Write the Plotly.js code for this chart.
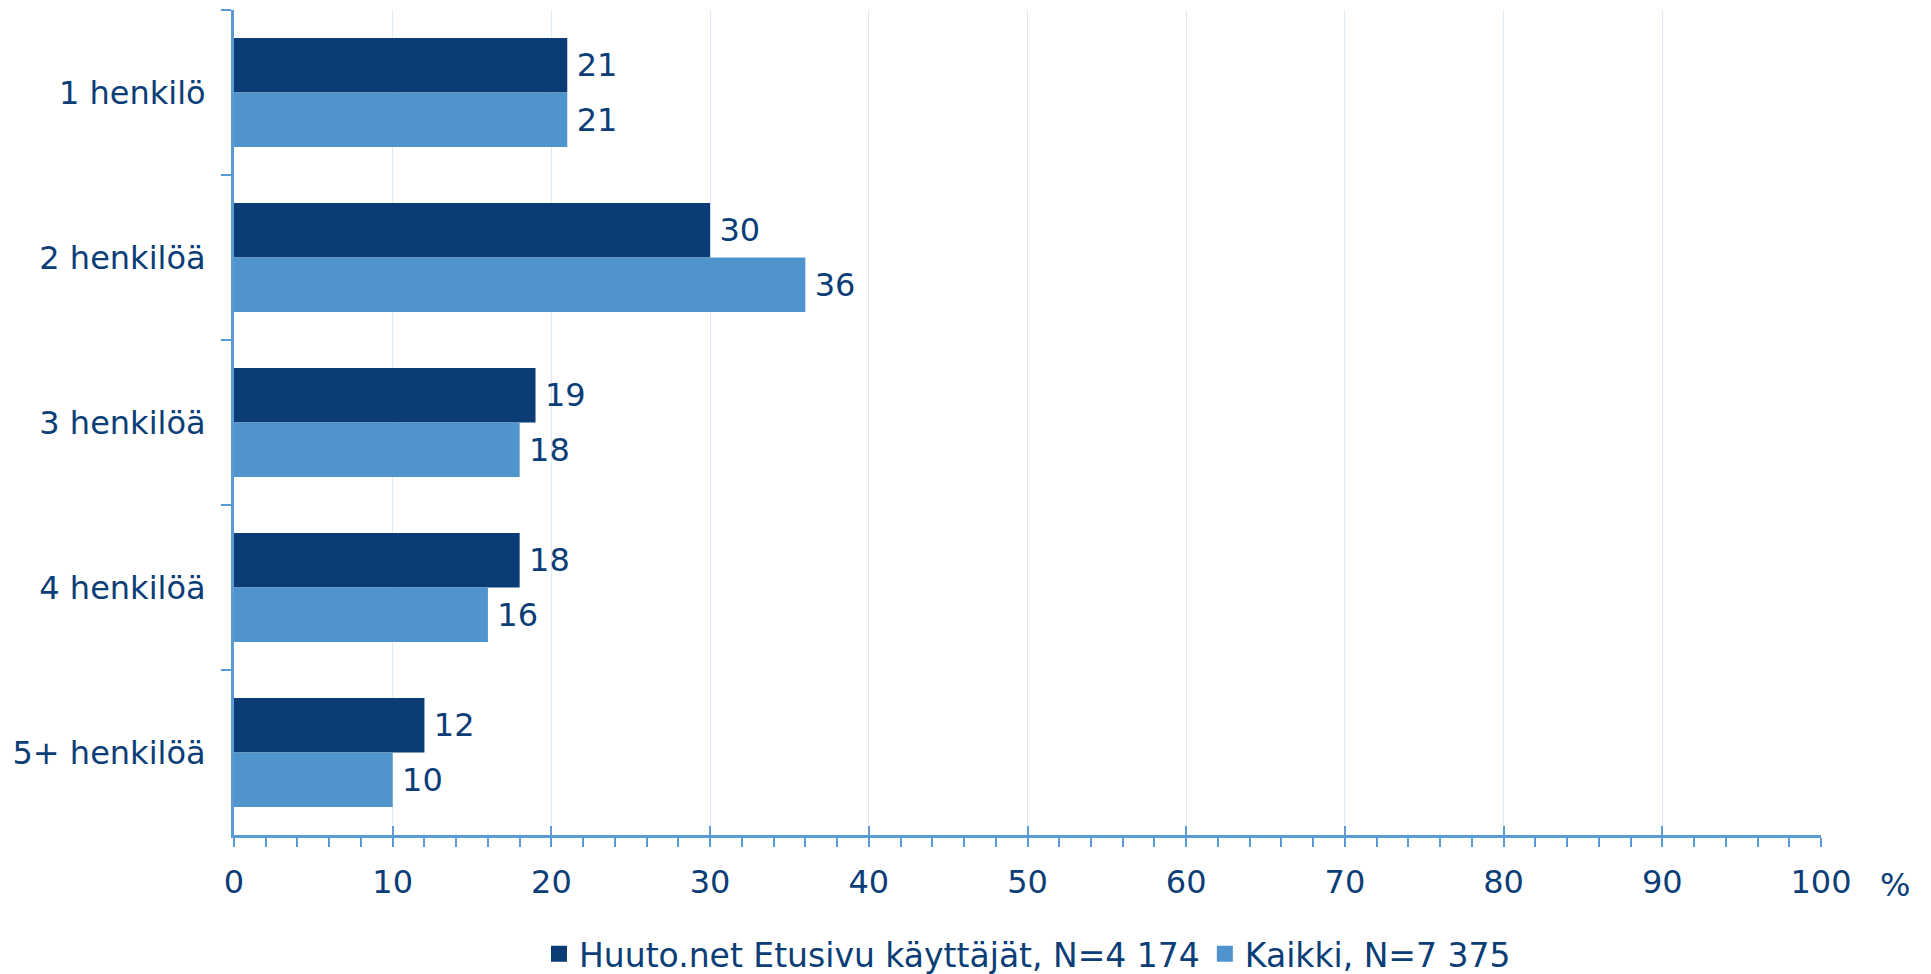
<!DOCTYPE html>
<html>
<head>
<meta charset="utf-8">
<script src="https://cdn.plot.ly/plotly-3.0.1.min.js"></script>
<style>
html, body { margin: 0; padding: 0; background: #ffffff; }
#chart { width: 1931px; height: 974px; }
</style>
</head>
<body>
<div id="chart"></div>
<script>
const categories = ["1 henkilö", "2 henkilöä", "3 henkilöä", "4 henkilöä", "5+ henkilöä"];
const seriesNames = ["Huuto.net Etusivu käyttäjät, N=4 174", "Kaikki, N=7 375"];
const huutoValues = [21, 30, 19, 18, 12];
const kaikkiValues = [21, 36, 18, 16, 10];
const xTickValues = [0, 10, 20, 30, 40, 50, 60, 70, 80, 90, 100];

const darkBlue = "#0b3c75";
const lightBlue = "#4f94cd";
const axisBlue = "#5b9bd5";
const textBlue = "#0b3d77";
const fontFam = "DejaVu Sans, Verdana, sans-serif";

function barTrace(name, values, color) {
  return {
    type: "bar",
    orientation: "h",
    name: name,
    y: categories,
    x: values,
    marker: { color: color, line: { width: 0 } },
    text: values.map(v => String(v)),
    texttemplate: "\u2009%{text}",
    textposition: "outside",
    textfont: { family: fontFam, size: 32, color: textBlue },
    outsidetextfont: { family: fontFam, size: 32, color: textBlue },
    cliponaxis: false,
    showlegend: false,
    hoverinfo: "skip"
  };
}

function legendTrace(name, color) {
  return {
    type: "scatter",
    mode: "markers",
    name: name,
    x: [null],
    y: [null],
    xaxis: "x2",
    marker: { symbol: "square", size: 18, color: color },
    showlegend: true,
    hoverinfo: "skip"
  };
}

const data = [
  barTrace(seriesNames[0], huutoValues, darkBlue),
  barTrace(seriesNames[1], kaikkiValues, lightBlue),
  legendTrace(seriesNames[0], darkBlue),
  legendTrace(seriesNames[1], lightBlue)
];

const layout = {
  width: 1931,
  height: 974,
  margin: { l: 234, r: 110, t: 10, b: 139, autoexpand: false },
  paper_bgcolor: "#ffffff",
  plot_bgcolor: "#ffffff",
  barmode: "group",
  bargap: 0.34,
  bargroupgap: 0,
  font: { family: fontFam, size: 32, color: textBlue },
  xaxis: {
    range: [0, 100],
    tickvals: xTickValues,
    ticktext: xTickValues.map(String),
    showgrid: true,
    gridcolor: "#dde9f5",
    gridwidth: 1,
    zeroline: false,
    showline: true,
    linecolor: axisBlue,
    linewidth: 3,
    ticks: "outside",
    ticklen: 9,
    tickwidth: 2,
    tickcolor: axisBlue,
    ticklabelstandoff: 8,
    automargin: false,
    tickfont: { family: fontFam, size: 32, color: textBlue },
    minor: { dtick: 2, ticks: "outside", ticklen: 9, tickwidth: 2, tickcolor: axisBlue, showgrid: false },
    fixedrange: true
  },
  xaxis2: {
    overlaying: "x",
    side: "bottom",
    range: [0, 100],
    tickvals: xTickValues,
    showticklabels: false,
    showgrid: false,
    zeroline: false,
    showline: false,
    ticks: "inside",
    ticklen: 9,
    tickwidth: 2,
    tickcolor: axisBlue,
    automargin: false,
    fixedrange: true
  },
  yaxis: {
    type: "category",
    autorange: "reversed",
    showgrid: false,
    zeroline: false,
    showline: true,
    linecolor: axisBlue,
    linewidth: 3,
    ticks: "outside",
    tickson: "boundaries",
    ticklen: 10,
    tickwidth: 2,
    tickcolor: axisBlue,
    ticklabelstandoff: 19,
    automargin: false,
    tickfont: { family: fontFam, size: 32, color: textBlue },
    fixedrange: true
  },
  legend: {
    orientation: "h",
    x: 0.5,
    xanchor: "center",
    y: -0.144,
    yanchor: "middle",
    font: { family: fontFam, size: 33, color: textBlue },
    bgcolor: "rgba(0,0,0,0)",
    itemclick: false,
    itemdoubleclick: false
  },
  annotations: [
    {
      text: "%",
      xref: "paper",
      yref: "paper",
      x: 1.0,
      xshift: 74,
      y: 0,
      yshift: -50,
      xanchor: "center",
      yanchor: "middle",
      showarrow: false,
      font: { family: fontFam, size: 32, color: textBlue }
    }
  ],
  showlegend: true
};

Plotly.newPlot("chart", data, layout, { displayModeBar: false, staticPlot: true });
</script>
</body>
</html>
